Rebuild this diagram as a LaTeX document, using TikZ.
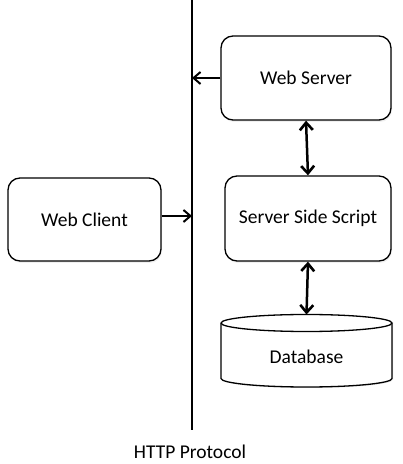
\documentclass[tikz,border=0pt]{standalone}
\usepackage{fontspec}
\setmainfont{Carlito}
\usetikzlibrary{arrows.meta,shadows}
\begin{document}
\begin{tikzpicture}[x=1pt,y=1pt,
  boxstyle/.style={draw, line width=1.3pt, rounded corners=12pt, fill=white,
    drop shadow={opacity=0.12, shadow xshift=1pt, shadow yshift=-2pt},
    font=\fontsize{19.5}{23}\selectfont, inner sep=0pt},
  onearrow/.style={line width=1.7pt, -{Straight Barb[length=7pt,width=12pt,line width=2pt]}},
  twoarrow/.style={line width=2.5pt, {Straight Barb[length=7.5pt,width=13pt,line width=2.6pt]}-{Straight Barb[length=7.5pt,width=13pt,line width=2.6pt]}},
  lbl/.style={font=\fontsize{19.5}{23}\selectfont, inner sep=0pt}]
\useasboundingbox (0,0) rectangle (403,464);
% HTTP line
\coordinate (ltop) at (192,464);
\coordinate (lbot) at (192,34);
\draw[line width=1.9pt] (ltop) -- (lbot);
\node[lbl] (http) at (190,12) {HTTP Protocol};
% boxes
\node[boxstyle, minimum width=170pt, minimum height=84pt] (ws) at (306,386) {Web Server};
\node[boxstyle, minimum width=166pt, minimum height=85pt] (ss) at (308,245.5) {Server Side Script};
\node[boxstyle, minimum width=153pt, minimum height=83pt] (wc) at (84.5,244.5) {Web Client};
% database cylinder
\fill[black, opacity=0.12] (222,142) -- (222,84.5) arc[start angle=180, end angle=360, x radius=85.5, y radius=8.5] -- (393,142) -- cycle;
\draw[line width=1.3pt, fill=white] (221,141) -- (221,85.5)
  arc[start angle=180, end angle=360, x radius=85.5, y radius=8.5]
  -- (392,141)
  arc[start angle=0, end angle=180, x radius=85.5, y radius=8.5];
\draw[line width=1.3pt] (221,141) arc[start angle=180, end angle=360, x radius=85.5, y radius=8.5];
\coordinate (dbtop) at (306.5,149.5);
\node[lbl] (db) at (306.5,107) {Database};
% connectors
\draw[onearrow] (ws.west) -- (ws.west -| ltop);
\draw[onearrow] ([yshift=3.5pt]wc.east) -- ([yshift=3.5pt]wc.east -| ltop);
\draw[twoarrow] (ws.south) -- (ss.north);
\draw[twoarrow] (ss.south) -- (dbtop);
\end{tikzpicture}
\end{document}
